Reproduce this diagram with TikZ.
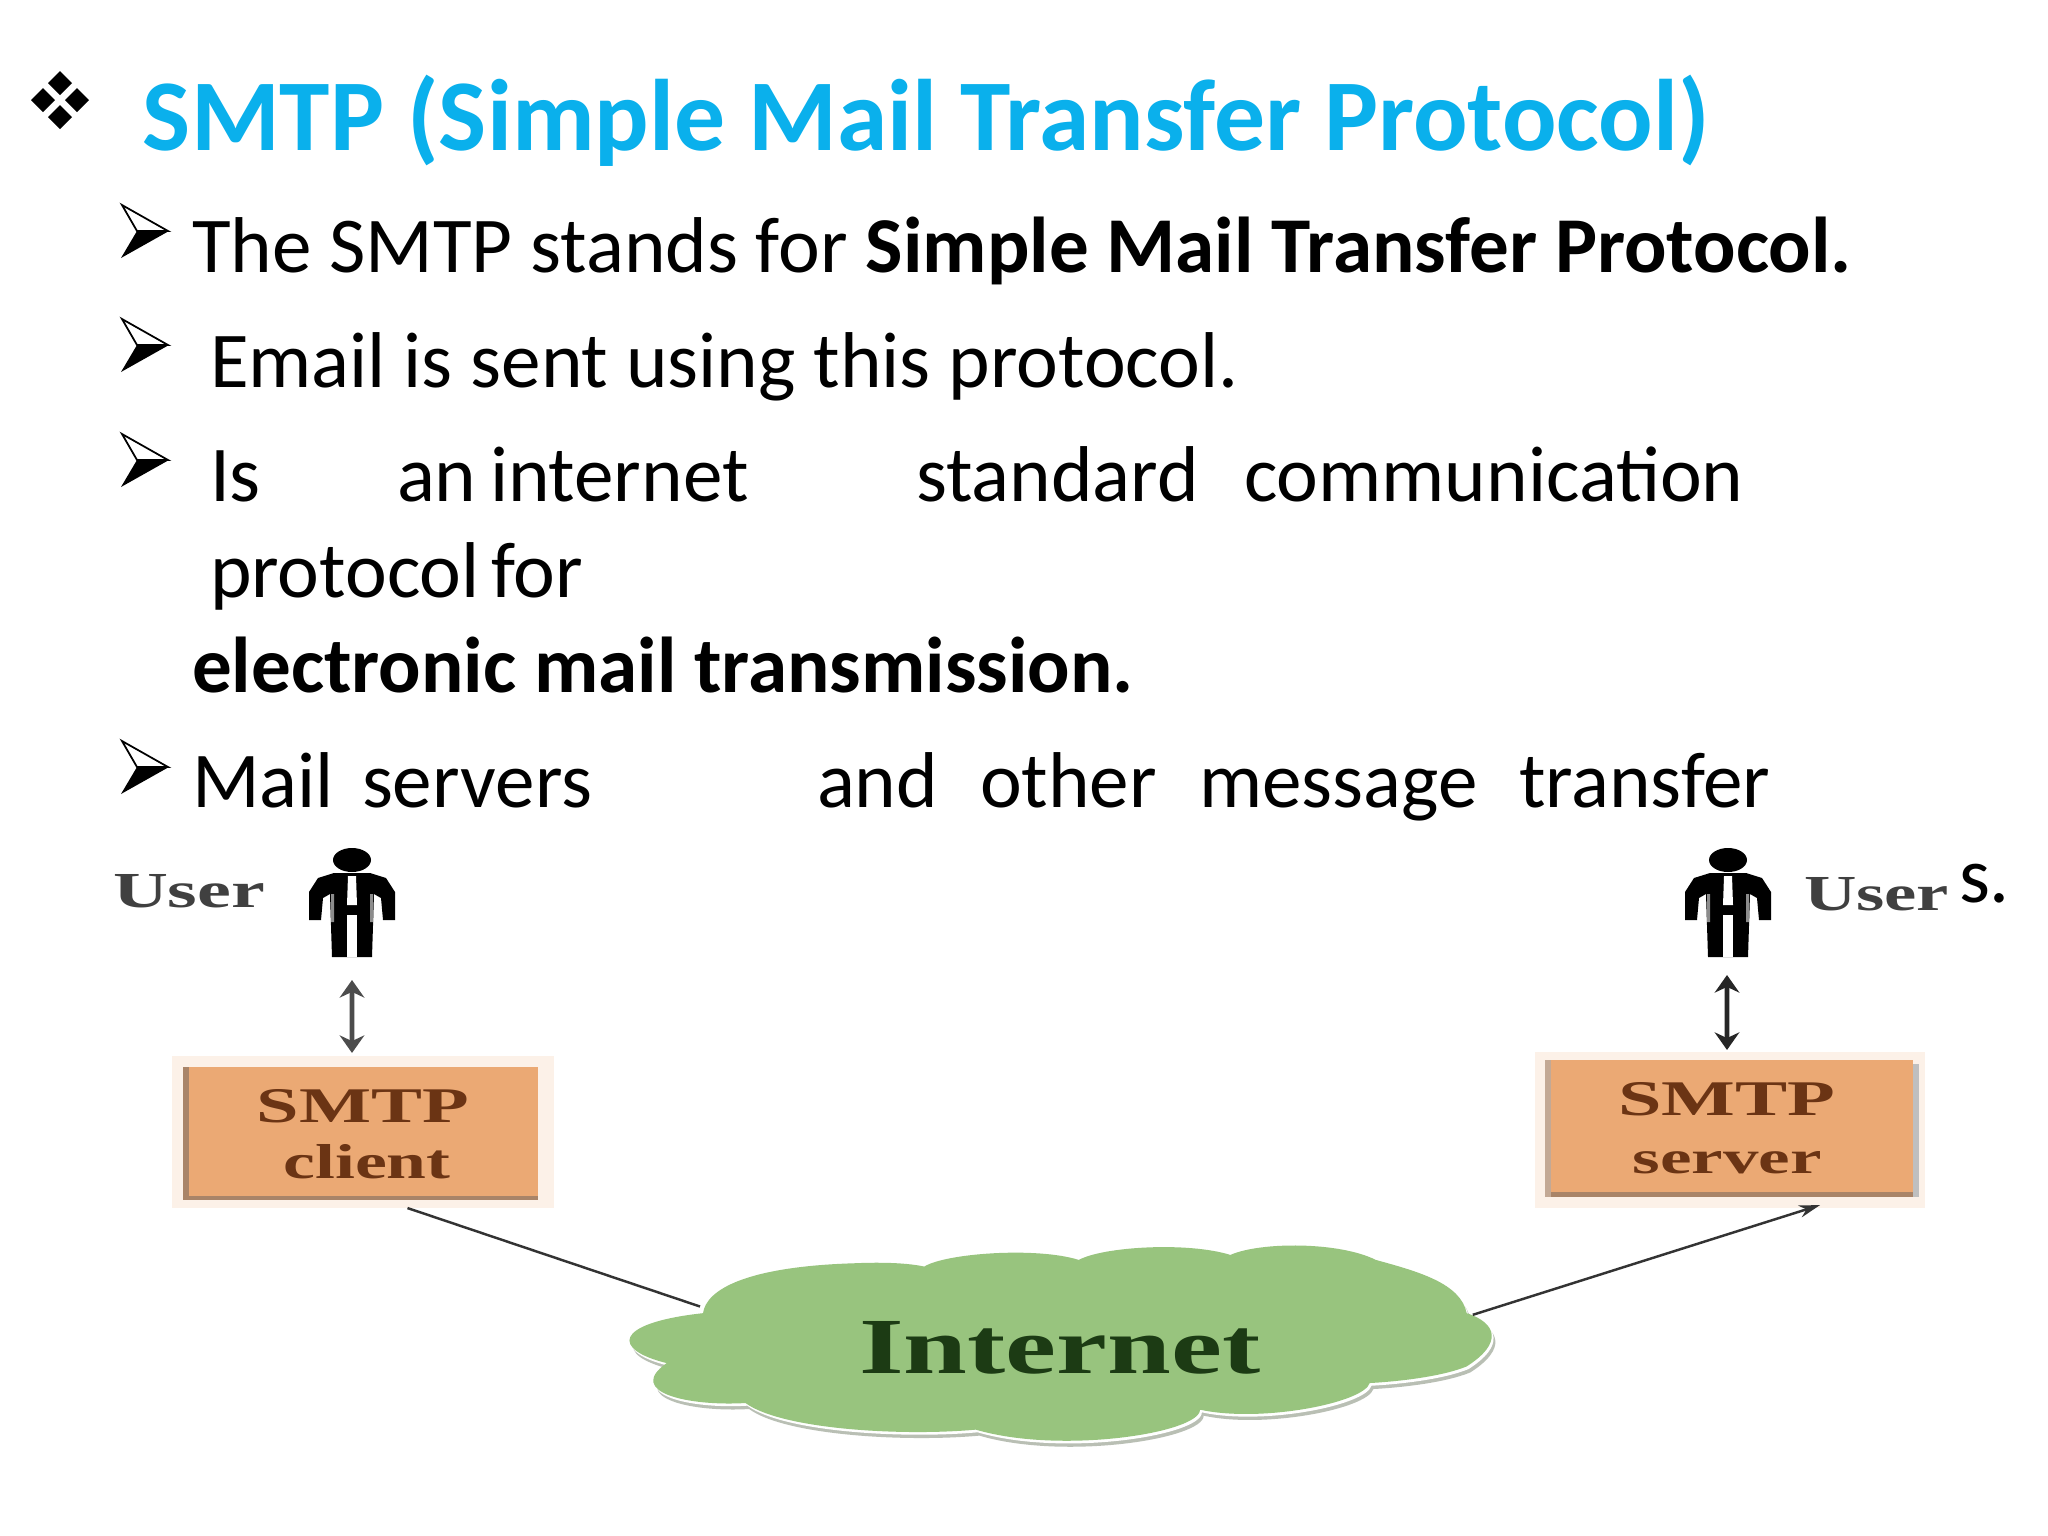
\documentclass[tikz,border=0pt]{standalone}
\usepackage{fontspec}
\usepackage{graphicx}
\setmainfont{Carlito}
\newfontfamily\serfont{Liberation Serif}
\usetikzlibrary{arrows.meta}
\definecolor{titleblue}{HTML}{0AB0EC}
\definecolor{boxfill}{HTML}{EBA974}
\definecolor{boxedge}{HTML}{A98468}
\definecolor{boxhalo}{HTML}{FCF1E8}
\definecolor{boxtext}{HTML}{6B3414}
\definecolor{cloudfill}{HTML}{98C47E}
\definecolor{cloudedge}{HTML}{B9BFB4}
\definecolor{cloudtext}{HTML}{1C3B14}
\newcommand{\fit}[3]{\resizebox{#1}{#2}{#3}}
\tikzset{
  x=0.01cm,y=-0.01cm,
  body/.style={anchor=base west,inner sep=0pt,outer sep=0pt,font=\fontsize{22.5}{27}\selectfont,text=black},
  titletext/.style={anchor=base west,inner sep=0pt,outer sep=0pt,font=\fontsize{28.9}{34}\bfseries\selectfont,text=titleblue},
  boxface/.style={fill=boxfill,inner sep=0pt,outer sep=0pt},
  boxlabel/.style={anchor=base,inner sep=0pt,outer sep=0pt,text=boxtext,font=\serfont\bfseries},
  userlabel/.style={anchor=base west,inner sep=0pt,outer sep=0pt,text=black!75,font=\serfont\bfseries},
  updown/.style={{Stealth[length=5pt,width=7pt]}-{Stealth[length=5pt,width=7pt]},line width=1.3pt,draw=black!70},
  wire/.style={line width=0.7pt,draw=black!80},
  bulletmark/.pic={
    \filldraw[fill=white,draw=black,line width=0.5pt,line join=miter] (1,-26) -- (47,0) -- (16,0) -- cycle;
    \fill[black] (0,27) -- (48,0) -- (16,0) -- cycle;
  },
  diamondmark/.pic={\fill[black] (-12,0) -- (0,-12) -- (12,0) -- (0,12) -- cycle;},
  personmark/.pic={
    \fill[black] (0,0) ellipse (19 and 12);
    \fill[black] (-18,13) -- (18,13) -- (34,18) -- (43,32) -- (43,60) -- (31,60) -- (29,38) -- (22,34)
      -- (20,97) -- (-20,97) -- (-22,34) -- (-29,38) -- (-31,60) -- (-43,60) -- (-43,32) -- (-34,18) -- cycle;
    \fill[white] (-4,16) -- (4,16) -- (5,45) -- (-5,45) -- cycle;
    \fill[white] (-5,55) rectangle (5,97);
    \fill[black!45] (-21,34) rectangle (-18,62) (18,34) rectangle (21,62);
  }
}
\begin{document}
\begin{tikzpicture}
\useasboundingbox (0,0) rectangle (2048,1536);
\fill[white] (0,0) rectangle (2048,1536);

% heading
\pic at (60,83) {diamondmark};
\pic at (43,100) {diamondmark};
\pic at (77,100) {diamondmark};
\pic at (60,117) {diamondmark};
\node[titletext] (title) at (143,150) {SMTP (Simple Mail Transfer Protocol)};

% bullets
\pic at (121,231) {bulletmark};
\pic at (121,345) {bulletmark};
\pic at (121,460) {bulletmark};
\pic at (121,767) {bulletmark};

\node[body] (l1) at (192,272) {The SMTP stands for \textbf{Simple Mail Transfer Protocol.}};
\node[body] (l2) at (210,387) {Email is sent using this protocol.};
\node[body] (l3a) at (210,501) {Is};
\node[body] (l3b) at (397,501) {an};
\node[body] (l3c) at (490,501) {internet};
\node[body] (l3d) at (916,501) {standard};
\node[body] (l3e) at (1244,501) {communication};
\node[body] (l4a) at (210,597) {protocol};
\node[body] (l4b) at (491,597) {for};
\node[body] (l5) at (192,692) {\textbf{electronic mail transmission.}};
\node[body] (l6a) at (192,807) {Mail};
\node[body] (l6b) at (362,807) {servers};
\node[body] (l6c) at (817,807) {and};
\node[body] (l6d) at (980,807) {other};
\node[body] (l6e) at (1199,807) {message};
\node[body] (l6f) at (1519,807) {transfer};
\node[body] (l7) at (1959,902) {s.};

% left stack
\pic at (352,860) {personmark};
\node[userlabel] (userL) at (113,907) {\fit{1.52cm}{0.33cm}{User}};
\coordinate (feetL) at (352,980);
\fill[boxhalo] (172,1056) rectangle (554,1208);
\node[boxface,minimum width=3.55cm,minimum height=1.33cm] (boxL) at (360.5,1133.5) {};
\fill[boxedge] (183,1196) rectangle (538,1200);
\fill[boxedge] (183,1067) rectangle (189,1200);
\node[boxlabel] (clientA) at (363,1122) {\fit{2.12cm}{0.33cm}{SMTP}};
\node[boxlabel] (clientB) at (367,1178) {\fit{1.67cm}{0.34cm}{client}};
\draw[updown] (feetL) -- ([xshift=-0.085cm,yshift=0.14cm]boxL.north);

% right stack
\pic at (1728,860) {personmark};
\node[userlabel] (userR) at (1804,910) {\fit{1.45cm}{0.33cm}{User}};
\coordinate (feetR) at (1727,975);
\fill[boxhalo] (1535,1052) rectangle (1925,1208);
\node[boxface,minimum width=3.68cm,minimum height=1.37cm] (boxR) at (1729,1128.5) {};
\fill[boxedge] (1545,1192) rectangle (1913,1197);
\fill[boxedge!70] (1545,1060) rectangle (1551,1197);
\fill[black!25] (1913,1064) rectangle (1919,1197);
\node[boxlabel] (serverA) at (1727,1115) {\fit{2.17cm}{0.33cm}{SMTP}};
\node[boxlabel] (serverB) at (1727,1173) {\fit{1.89cm}{0.22cm}{server}};
\draw[updown,draw=black!85] (feetR) -- ([xshift=-0.02cm,yshift=0.10cm]boxR.north);

% cloud
\begin{scope}[shift={(600,1200)},x={0.00606cm},y={-0.003333cm}]
\def\cloudpath{
  (170,340)
  .. controls (175,270) and (240,200) .. (420,190)
  .. controls (470,186) and (510,190) .. (535,200)
  .. controls (570,160) and (720,140) .. (790,180)
  .. controls (830,140) and (970,125) .. (1040,165)
  .. controls (1090,125) and (1220,125) .. (1280,180)
  .. controls (1350,215) and (1420,250) .. (1430,340)
  .. controls (1480,370) and (1490,430) .. (1430,500)
  .. controls (1390,530) and (1320,545) .. (1270,550)
  .. controls (1260,610) and (1090,670) .. (990,630)
  .. controls (990,700) and (760,765) .. (620,690)
  .. controls (500,710) and (300,690) .. (240,610)
  .. controls (150,620) and (40,580) .. (110,490)
  .. controls (20,450) and (20,370) .. (170,340) -- cycle}
\fill[cloudedge,shift={(6,18)}] \cloudpath;
\fill[white,shift={(3,8)}] \cloudpath;
\fill[cloudfill] \cloudpath;
\coordinate (cloudL) at (165,320);
\coordinate (cloudR) at (1440,345);
\end{scope}
\node[anchor=base west,inner sep=0pt,outer sep=0pt,text=cloudtext,font=\serfont\bfseries] (cloud) at (859,1373) {\fit{4.01cm}{0.52cm}{Internet}};

% wires
\draw[wire] ([xshift=0.47cm]boxL.south) ++(0,8) -- (cloudL);
\draw[wire,-{Stealth[length=6pt,width=3.5pt]}] (cloudR) -- ([xshift=0.91cm,yshift=-0.08cm]boxR.south);
\end{tikzpicture}
\end{document}
